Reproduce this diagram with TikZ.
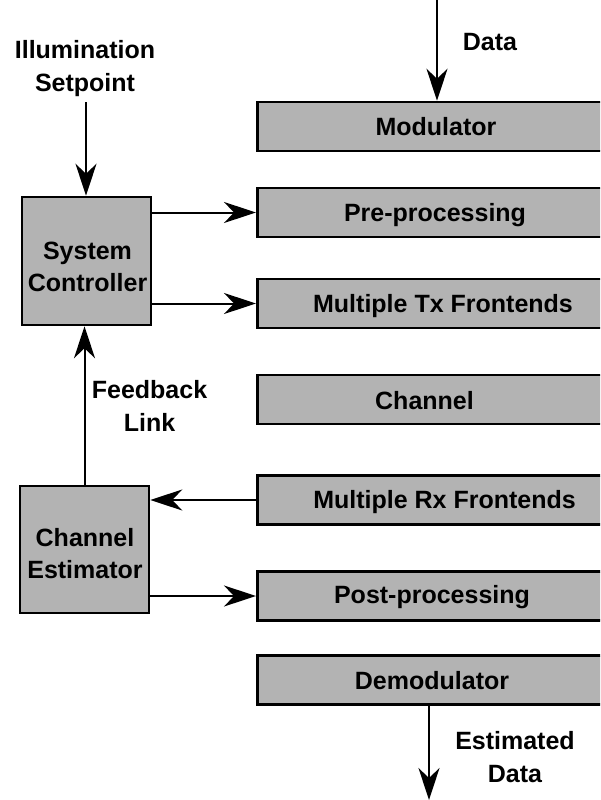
\documentclass[tikz,border=0pt]{standalone}
\usepackage{fontspec}
\setmainfont{Liberation Sans}
\usetikzlibrary{arrows.meta}
\definecolor{blockfill}{RGB}{179,179,179}
\tikzset{
  lbl/.style={font=\bfseries\fontsize{25}{32.5}\selectfont, align=center, inner sep=0pt},
  boxtext/.style={lbl, text height=18pt, text depth=0pt},
  block/.style={draw=black, fill=blockfill, line width=2.5pt, rectangle, inner sep=0pt},
  wide/.style={block, anchor=west, minimum width=360pt, minimum height=49pt},
  tall/.style={block, minimum width=129pt, minimum height=128pt},
  arr/.style={line width=2pt, -{Stealth[length=32pt, width=21pt, inset=10pt]}}
}
\begin{document}
\begin{tikzpicture}[x=1pt, y=-1pt]
  \path[use as bounding box, clip] (0,0) rectangle (600,800);

  % transmitter / receiver chain (runs off the right edge)
  \node[wide] (mod)  at (256,126.5) {};
  \node[wide] (pre)  at (256,212.5) {};
  \node[wide] (tx)   at (256,303.5) {};
  \node[wide] (chan) at (256,399.5) {};
  \node[wide] (rx)   at (256,500)   {};
  \node[wide] (post) at (256,596)   {};
  \node[wide] (dem)  at (256,680)   {};
  \node[boxtext] (mod-t)  at (436,126.5) {Modulator};
  \node[boxtext] (pre-t)  at (435,212.5) {Pre-processing};
  \node[boxtext] (tx-t)   at (443,303.5) {Multiple Tx Frontends};
  \node[boxtext] (chan-t) at (424.5,400.5) {Channel};
  \node[boxtext] (rx-t)   at (444.5,499.5) {Multiple Rx Frontends};
  \node[boxtext] (post-t) at (432,594.5) {Post-processing};
  \node[boxtext] (dem-t)  at (432,680)   {Demodulator};

  % control blocks
  \node[tall] (ctrl) at (86.5,261) {};
  \node[lbl]  (ctrl-text) at (87.5,267) {System\\Controller};
  \node[tall, minimum height=127pt] (est) at (84.5,549.5) {};
  \node[lbl]  (est-text) at (85,553.5) {Channel\\Estimator};

  % free labels
  \node[lbl] (illum) at (85,68.5)   {Illumination\\Setpoint};
  \node[lbl] (data)  at (490,42)    {Data};
  \node[lbl] (fb)    at (149.5,406) {Feedback\\Link};
  \node[lbl] (est-data) at (515,757) {Estimated\\Data};

  % open ends
  \coordinate (dataIn)   at (437,0);
  \coordinate (illumEnd) at (86,102);
  \coordinate (dataOut)  at (429,800);

  % connectors
  \draw[arr] (dataIn) -- (dataIn |- mod.north);
  \draw[arr] (illumEnd) -- (illumEnd |- ctrl.north);
  \draw[arr] (ctrl.east |- pre) -- (pre.west);
  \draw[arr] (ctrl.east |- tx) -- (tx.west);
  \draw[arr] (rx.west) -- (est.east |- rx);
  \draw[arr] (est.east |- post) -- (post.west);
  \draw[arr] (est.north) -- (est.north |- ctrl.south);
  \draw[arr] (dataOut |- dem.south) -- (dataOut);
\end{tikzpicture}
\end{document}
